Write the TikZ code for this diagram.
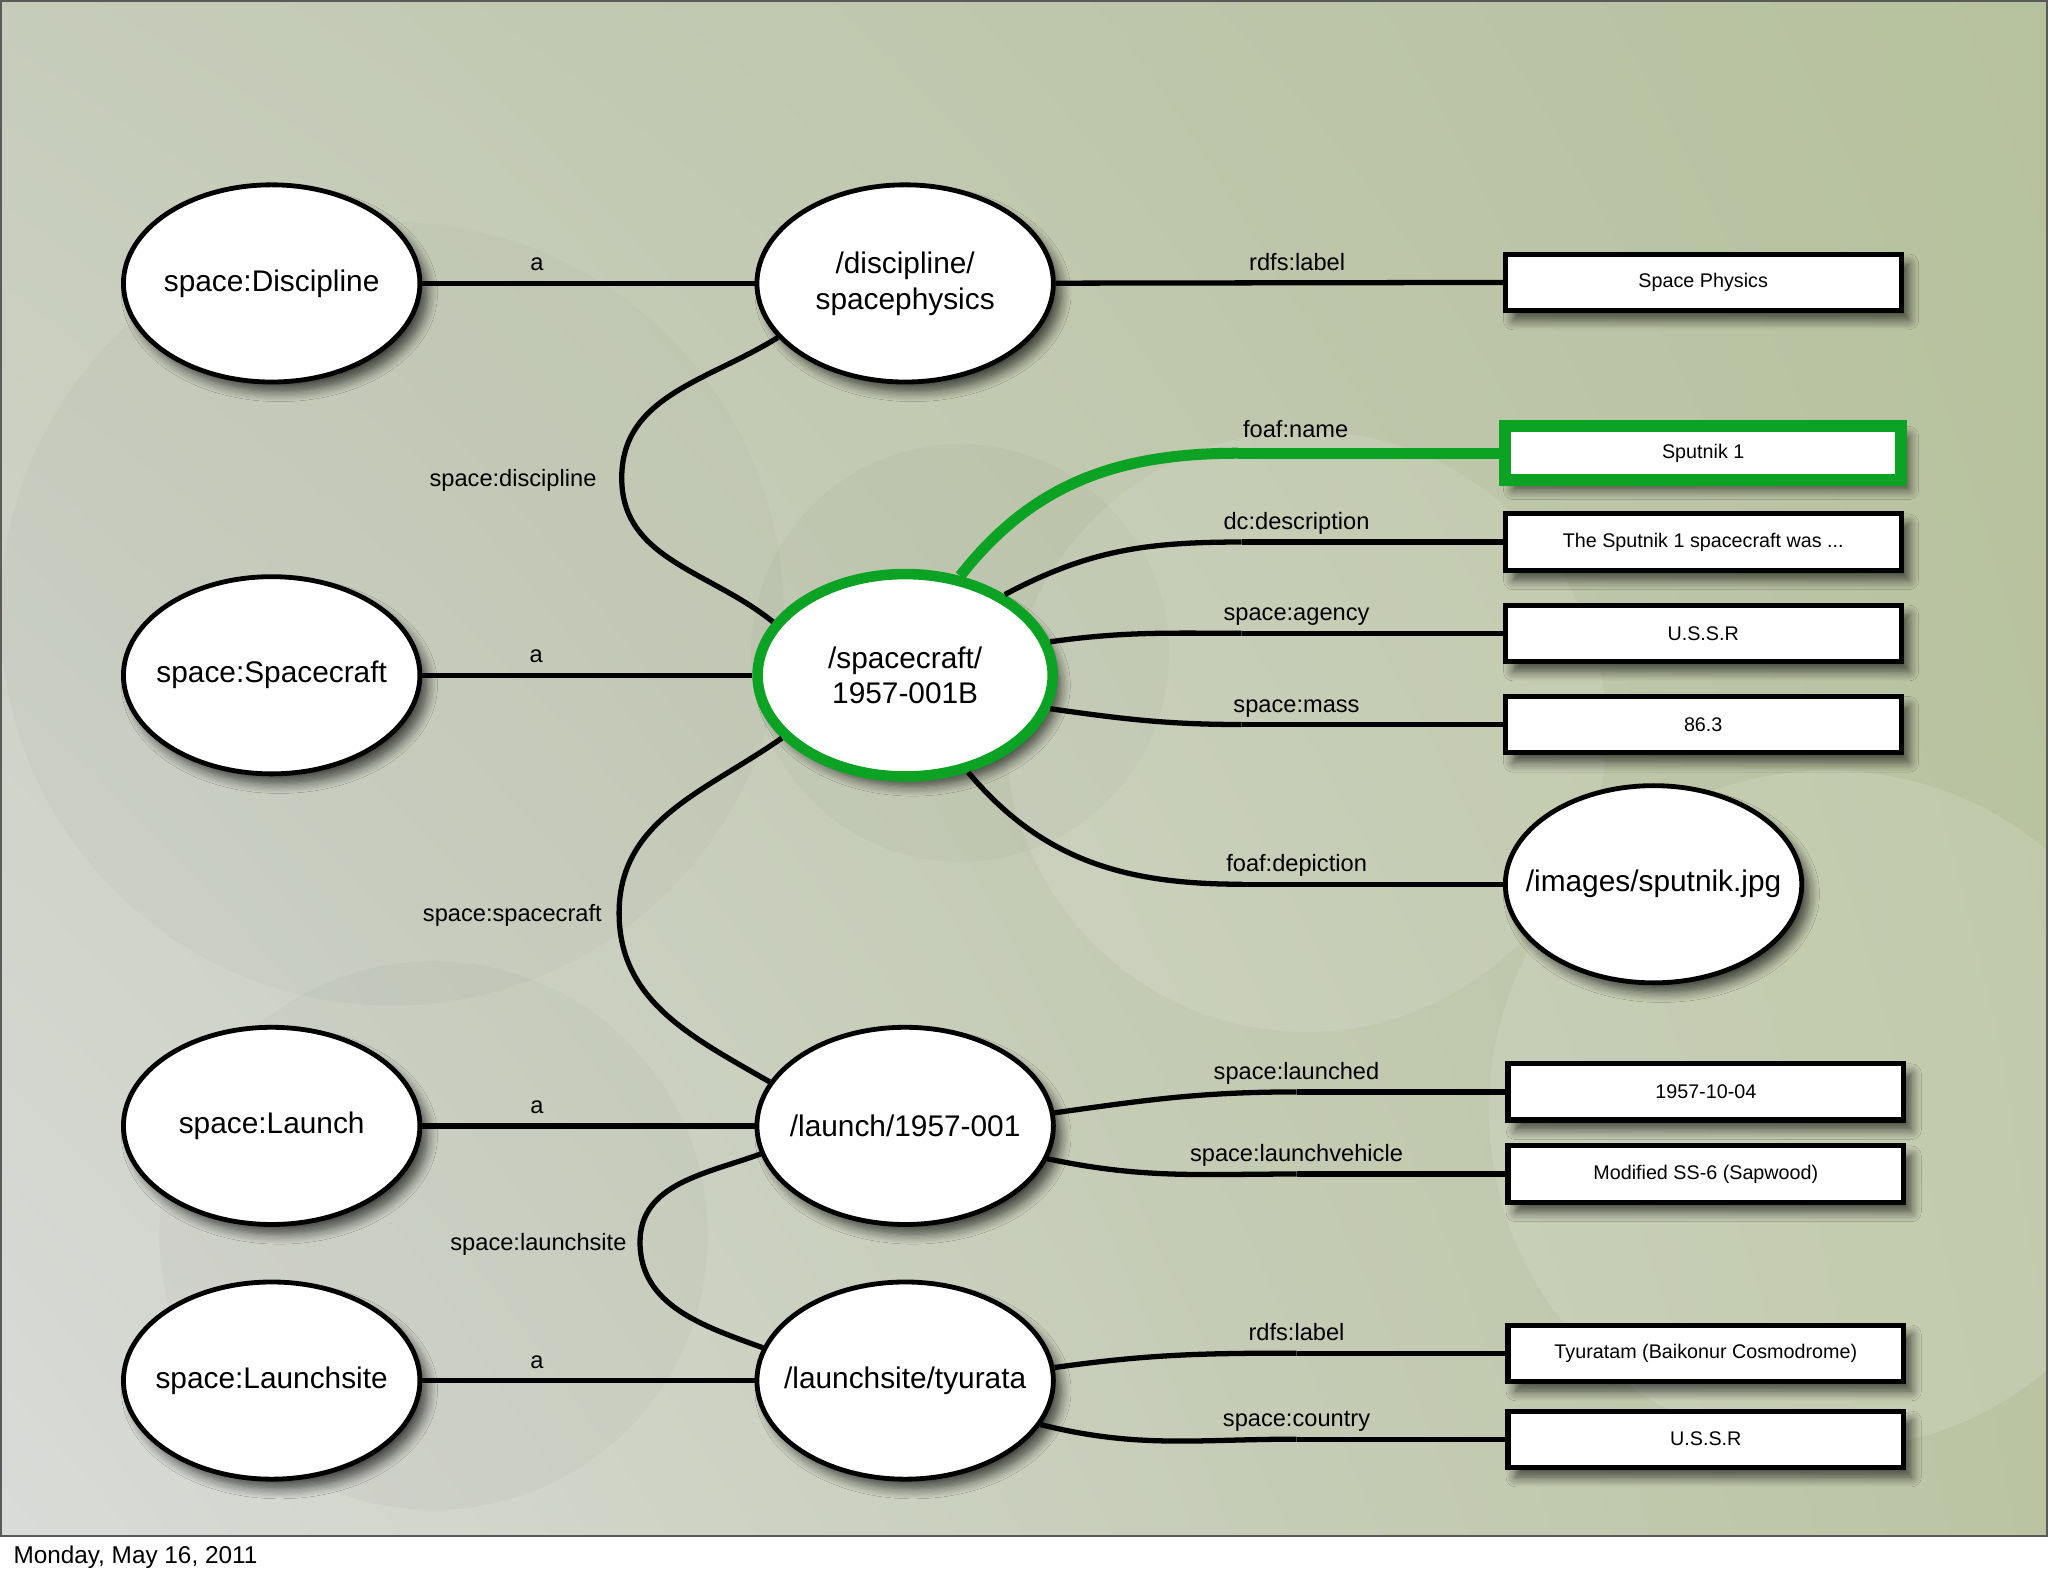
\documentclass[tikz,border=0pt]{standalone}
\usepackage{fontspec}
\setmainfont{Liberation Sans}
\usetikzlibrary{shapes.geometric}
\usetikzlibrary{positioning}
\usetikzlibrary{shadings}
\usetikzlibrary{shadows.blur}
\definecolor{spgreen}{RGB}{12,163,36}
\definecolor{bgul}{RGB}{198,204,186}
\definecolor{bgur}{RGB}{182,193,157}
\definecolor{bgll}{RGB}{217,219,216}
\definecolor{bglr}{RGB}{186,196,162}
\definecolor{frame}{RGB}{90,90,90}
\tikzset{
    softshadow/.style={
        blur shadow={shadow xshift=0.12cm, shadow yshift=-0.15cm,
            shadow blur radius=0.15cm, shadow blur steps=8, shadow opacity=65}},
    resource/.style={
        ellipse,
        draw,
        line width=2.1pt,
        fill=white,
        minimum width=4.54cm,
        minimum height=3.02cm,
        inner xsep=-0.8cm,
        align=center,
        font=\fontsize{13}{15.6}\selectfont,
        softshadow},
    literal/.style={
        rectangle,
        draw,
        line width=2.2pt,
        fill=white,
        minimum width=6.06cm,
        minimum height=0.86cm,
        font=\fontsize{8.6}{10}\selectfont,
        softshadow},
    selected/.style={
        draw=spgreen,
        line width=4.6pt},
    pred/.style={
        font=\fontsize{10.3}{12}\selectfont,
        inner sep=0pt,
        text depth=0pt,
        above=0.15cm},
    sidepred/.style={
        font=\fontsize{10.3}{12}\selectfont,
        inner sep=0pt,
        text depth=0pt},
    hotedge/.style={
        draw=spgreen,
        line width=4.8pt},
    every edge/.style={
        draw,
        line width=2.3pt}}

\begin{document}
\begin{tikzpicture}[x=0.02cm, y=0.02cm]
    \useasboundingbox (0,0) rectangle (1568,-1206.6);
    \shade[upper left=bgul, upper right=bgur, lower left=bgll, lower right=bglr]
        (0,0) rectangle (1568,-1176);
    \fill[black, opacity=0.02] (300,-470) circle (300);
    \fill[black, opacity=0.025] (332,-946) circle (210);
    \fill[black, opacity=0.025] (735,-500) circle (160);
    \fill[white, opacity=0.12] (1400,-850) circle (260);
    \fill[white, opacity=0.1] (1000,-560) circle (230);
    \fill[white] (0,-1176) rectangle (1568,-1206.6);
    \draw[frame, line width=1.2pt] (0.5,-0.5) rectangle (1567.5,-1176);
    \node[anchor=west, inner sep=0pt, font=\fontsize{10.6}{12}\selectfont] (footer) at (10,-1192) {Monday, May 16, 2011};

    \node[resource] (discclass) at (208,-217) {space:Discipline};
    \node[resource] (craftclass) at (208,-517) {space:Spacecraft};
    \node[resource] (launchclass) at (208,-862) {space:Launch};
    \node[resource] (siteclass) at (208,-1057) {space:Launchsite};

    \node[resource] (disc) at (693,-217) {/discipline/\\spacephysics};
    \node[resource, selected, minimum width=4.52cm, minimum height=3.1cm] (craft) at (693,-517) {/spacecraft/\\1957-001B};
    \node[resource] (launch) at (693,-862) {/launch/1957-001};
    \node[resource] (site) at (693,-1057) {/launchsite/tyurata};
    \node[resource] (image) at (1266,-677) {/images/sputnik.jpg};

    \node[literal] (label) at (1304,-216) {Space Physics};
    \node[literal, selected, line width=5.2pt, minimum height=0.82cm] (name) at (1304,-347) {Sputnik 1};
    \node[literal, below=0.39cm of name] (descr) {The Sputnik 1 spacecraft was ...};
    \node[literal, below=0.46cm of descr] (agency) {U.S.S.R};
    \node[literal, below=0.46cm of agency] (mass) {86.3};
    \node[literal] (launched) at (1306,-836) {1957-10-04};
    \node[literal, below=0.32cm of launched] (vehicle) {Modified SS-6 (Sapwood)};
    \node[literal] (sitelabel) at (1306,-1036) {Tyuratam (Baikonur Cosmodrome)};
    \node[literal, below=0.38cm of sitelabel] (country) {U.S.S.R};

    \coordinate[left=4cm of name.west] (namej);
    \coordinate[left=4cm of descr.west] (descrj);
    \coordinate[left=4cm of agency.west] (agencyj);
    \coordinate[left=4cm of mass.west] (massj);
    \coordinate[left=4cm of image.west] (imagej);
    \coordinate[left=3.2cm of launched.west] (launchedj);
    \coordinate[left=3.2cm of vehicle.west] (vehiclej);
    \coordinate[left=3.2cm of sitelabel.west] (sitelabelj);
    \coordinate[left=3.2cm of country.west] (countryj);
    \coordinate (discmid) at (476,-366);
    \coordinate (craftmid) at (474,-699);
    \coordinate (launchmid) at (490,-951);

    \draw (discclass) edge node[pred, pos=0.345] {a} (disc);
    \draw (craftclass) edge node[pred, pos=0.345] {a} (craft);
    \draw (launchclass) edge node[pred, pos=0.345] {a} (launch);
    \draw (siteclass) edge node[pred, pos=0.345] {a} (site);

    \draw (disc) edge node[pred, pos=0.54] {rdfs:label} (label);

    \draw (disc.203) edge[out=212, in=90] (discmid)
          (discmid) edge[out=270, in=141] (craft.158);
    \node[sidepred, left=0.38cm of discmid] {space:discipline};
    \draw (craft.207) edge[out=215, in=90] (craftmid)
          (craftmid) edge[out=270, in=150] (launch.162);
    \node[sidepred, left=0.26cm of craftmid] {space:spacecraft};
    \draw (launch.191) edge[out=200, in=90] (launchmid)
          (launchmid) edge[out=270, in=160] (site.167);
    \node[sidepred, left=0.2cm of launchmid] {space:launchsite};

    \draw (craft.61) edge[hotedge, out=52, in=180] (namej)
          (namej) edge[hotedge] node[pred, pos=0.22] {foaf:name} (name);
    \draw (craft.39) edge[out=28, in=180] (descrj)
          (descrj) edge node[pred, pos=0.21] {dc:description} (descr);
    \draw (craft.13) edge[out=8, in=180] (agencyj)
          (agencyj) edge node[pred, pos=0.21] {space:agency} (agency);
    \draw (craft.-13) edge[out=-8, in=180] (massj)
          (massj) edge node[pred, pos=0.21] {space:mass} (mass);
    \draw (craft.-57) edge[out=-50, in=180] (imagej)
          (imagej) edge node[pred, pos=0.21] {foaf:depiction} (image);

    \draw (launch.5) edge[out=8, in=180] (launchedj)
          (launchedj) edge node[pred, pos=0] {space:launched} (launched);
    \draw (launch.-13) edge[out=-12, in=180] (vehiclej)
          (vehiclej) edge node[pred, pos=0] {space:launchvehicle} (vehicle);
    \draw (site.5) edge[out=8, in=180] (sitelabelj)
          (sitelabelj) edge node[pred, pos=0] {rdfs:label} (sitelabel);
    \draw (site.-18) edge[out=-14, in=180] (countryj)
          (countryj) edge node[pred, pos=0] {space:country} (country);
\end{tikzpicture}
\end{document}
